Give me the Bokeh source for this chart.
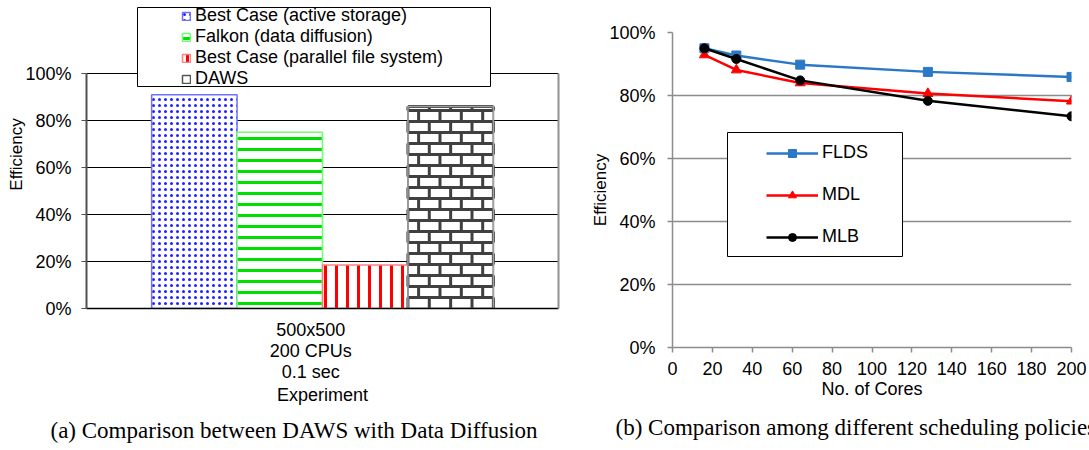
import numpy as np
from bokeh.plotting import figure
from bokeh.models import (Range1d, FixedTicker, SingleIntervalTicker, NumeralTickFormatter,
                          LinearAxis, Legend, BoxAnnotation, Title)
from bokeh.core.properties import value
from bokeh.embed import file_html
from bokeh.resources import INLINE

# ---------------- data ----------------
series_a = ["Best Case (active storage)", "Falkon (data diffusion)",
            "Best Case (parallel file system)", "DAWS"]
efficiency_a = [0.91, 0.75, 0.185, 0.86]
experiment_label = "500x500\n200 CPUs\n0.1 sec"
caption_a = "(a) Comparison between DAWS with Data Diffusion"

cores = [16, 32, 64, 128, 200]
flds = [0.950, 0.927, 0.898, 0.875, 0.859]
mdl = [0.929, 0.881, 0.840, 0.806, 0.782]
mlb = [0.950, 0.916, 0.848, 0.783, 0.734]
caption_b = "(b) Comparison among different scheduling policies"

FONT = "Liberation Sans"
SERIF = "Liberation Serif"
FS = "18px"
BLACK = "#000000"


def style_axis(ax, line_color, tick_color, standoff, label, label_standoff):
    ax.axis_line_color = line_color
    ax.major_tick_line_color = tick_color
    ax.major_tick_out = 5
    ax.major_tick_in = 0
    ax.minor_tick_line_color = None
    ax.major_label_text_font = FONT
    ax.major_label_text_font_size = FS
    ax.major_label_text_color = BLACK
    ax.major_label_standoff = standoff
    ax.axis_label = label
    ax.axis_label_text_font = FONT
    ax.axis_label_text_font_size = FS
    ax.axis_label_text_font_style = "normal"
    ax.axis_label_text_color = BLACK
    ax.axis_label_standoff = label_standoff


def caption(p, text, offset, standoff):
    p.add_layout(Title(text=text, align="left", offset=offset, standoff=standoff,
                       text_font=SERIF, text_font_size="23px", text_line_height=1.0,
                       text_font_style="normal", text_color=BLACK), "below")


# ---------------- left chart ----------------
A_FRAME_H = 308      # px height of plot frame
A_PX_PER_UNIT = 235  # px for 100 %
pa = figure(width=588, height=450, output_backend="svg", toolbar_location=None,
            x_range=Range1d(0, 1), y_range=Range1d(0, A_FRAME_H / A_PX_PER_UNIT),
            min_border_left=86, min_border_right=30, min_border_top=0, min_border_bottom=142,
            styles={"position": "absolute", "left": "0px", "top": "0px"})
pa.outline_line_color = None
pa.xgrid.visible = False
pa.ygrid.ticker = FixedTicker(ticks=[0, 0.2, 0.4, 0.6, 0.8, 1.0])
pa.ygrid.grid_line_color = "#000000"
pa.ygrid.grid_line_width = 1

ya = pa.yaxis[0]
style_axis(ya, "#505050", "#505050", 10, "Efficiency", -4)
ya.ticker = FixedTicker(ticks=[0, 0.2, 0.4, 0.6, 0.8, 1.0])
ya.formatter = NumeralTickFormatter(format="0%")
ya.bounds = (0, 1)
ya.axis_line_width = 2
ya.axis_label_text_font_size = "17px"

xa = pa.xaxis[0]
style_axis(xa, "#000000", None, 6, "Experiment", 0)
xa.ticker = FixedTicker(ticks=[0.475])
xa.major_label_overrides = {0.475: experiment_label}
xa.major_label_text_line_height = 1.05
xa.axis_line_width = 1.5

# right border of the plot area
pa.add_layout(LinearAxis(bounds=(0, 1), ticker=FixedTicker(ticks=[]),
                         axis_line_color="#909090", axis_line_width=2,
                         major_tick_line_color=None, minor_tick_line_color=None,
                         major_label_text_font_size="0px"), "right")

# legend frame
pa.add_layout(BoxAnnotation(left=137, right=490, top=7, bottom=86,
                            left_units="canvas", right_units="canvas",
                            top_units="canvas", bottom_units="canvas",
                            fill_color="white", fill_alpha=1,
                            line_color="black", line_width=1, line_alpha=1))

bar_w = 0.181
styles = [
    dict(line_color="#7070ff", hatch_pattern=value("dot"), hatch_color="#2020ff", hatch_scale=6, hatch_weight=1),
    dict(line_color="#70ff70", hatch_pattern=value("horizontal_line"), hatch_color="#00e000", hatch_scale=11, hatch_weight=3),
    dict(line_color="#ff8080", hatch_pattern=value("vertical_line"), hatch_color="#ff0000", hatch_scale=11, hatch_weight=3),
    dict(line_color="#555555"),
]
items_a = []
centers = []
for i, (name, val) in enumerate(zip(series_a, efficiency_a)):
    xc = 0.5 + (i - 1.5) * bar_w
    centers.append(xc)
    r = pa.vbar(x=[xc], top=[val], width=bar_w, bottom=0,
                fill_color="white", line_width=1.5, **styles[i])
    items_a.append((name, [r]))

# brick pattern for the DAWS bar (derived from its value and the bar geometry)
row_h = 11 / A_PX_PER_UNIT
joint = bar_w / 4
b_left = centers[3] - bar_w / 2
b_right = centers[3] + bar_w / 2
b_top = efficiency_a[3]
n_rows = int(np.ceil(b_top / row_h))
sx0, sy0, sx1, sy1 = [], [], [], []
for k in range(1, n_rows):
    y = k * row_h
    sx0.append(b_left); sx1.append(b_right); sy0.append(y); sy1.append(y)
sx0.append(b_left); sx1.append(b_right); sy0.append(b_top); sy1.append(b_top)
for k in range(n_rows):
    y0 = k * row_h
    y1 = min((k + 1) * row_h, b_top)
    shift = 0 if k % 2 == 0 else joint / 2
    xj = b_left + shift
    while xj <= b_right + 1e-9:
        sx0.append(xj); sx1.append(xj); sy0.append(y0); sy1.append(y1)
        xj += joint
pa.segment(x0=sx0, y0=sy0, x1=sx1, y1=sy1, line_color="#404040", line_width=3)
pa.vbar(x=[centers[3]], top=[b_top], width=bar_w, bottom=0, fill_color=None,
        line_color="#a0a0a0", line_width=1.5)

pa.add_layout(Legend(items=items_a, location=(95, 219), orientation="vertical",
                     padding=0, margin=0, spacing=0, label_height=20, glyph_height=10, glyph_width=10,
                     label_standoff=4, label_text_font=FONT, label_text_font_size=FS,
                     label_text_line_height=1.1,
                     label_text_color=BLACK, border_line_color=None, background_fill_alpha=0))

caption(pa, caption_a, -36, 16)

# ---------------- right chart ----------------
pb = figure(width=501, height=450, output_backend="svg", toolbar_location=None,
            x_range=Range1d(0, 200), y_range=Range1d(0, 1),
            min_border_left=79, min_border_right=18, min_border_top=32, min_border_bottom=103,
            styles={"position": "absolute", "left": "588px", "top": "0px"})
pb.outline_line_color = None
pb.xgrid.visible = False
pb.ygrid.grid_line_color = "#8c8c8c"
pb.ygrid.grid_line_width = 1.5

yb = pb.yaxis[0]
style_axis(yb, "#8c8c8c", "#8c8c8c", 12, "Efficiency", -4)
yb.ticker = SingleIntervalTicker(interval=0.2)
pb.ygrid.ticker = SingleIntervalTicker(interval=0.2)
yb.formatter = NumeralTickFormatter(format="0%")
yb.axis_line_width = 1.5
yb.major_tick_line_width = 1.5
yb.axis_label_text_font_size = "17px"

xb = pb.xaxis[0]
style_axis(xb, "#8c8c8c", "#8c8c8c", 9, "No. of Cores", 1)
xb.ticker = SingleIntervalTicker(interval=20)
xb.axis_line_width = 1.5
xb.major_tick_line_width = 1.5
xb.major_label_text_line_height = 1.0
xb.axis_label_text_line_height = 1.0

pb.add_layout(BoxAnnotation(left=139, right=314, top=132, bottom=256,
                            left_units="canvas", right_units="canvas",
                            top_units="canvas", bottom_units="canvas",
                            fill_color="white", fill_alpha=1,
                            line_color="black", line_width=1, line_alpha=1))

blue = "#2a78c6"
l1 = pb.line(cores, flds, line_color=blue, line_width=2.5)
m1 = pb.scatter(cores, flds, marker="square", size=9, fill_color=blue, line_color=blue)
l2 = pb.line(cores, mdl, line_color="#ff0000", line_width=2.5)
m2 = pb.scatter(cores, mdl, marker="triangle", size=10, fill_color="#ff0000", line_color="#ff0000")
l3 = pb.line(cores, mlb, line_color="#000000", line_width=2.5)
m3 = pb.scatter(cores, mlb, marker="circle", size=9, fill_color="#000000", line_color="#000000")

pb.add_layout(Legend(items=[("FLDS", [l1, m1]), ("MDL", [l2, m2]), ("MLB", [l3, m3])],
                     location=(94, 100), orientation="vertical",
                     padding=0, margin=0, spacing=21, label_height=20, glyph_height=20, glyph_width=52,
                     label_standoff=4, label_text_font=FONT, label_text_font_size=FS,
                     label_text_color=BLACK, border_line_color=None, background_fill_alpha=0))

caption(pb, caption_b, -57, 22)

open("out.html", "w").write(file_html([pa, pb], INLINE))
